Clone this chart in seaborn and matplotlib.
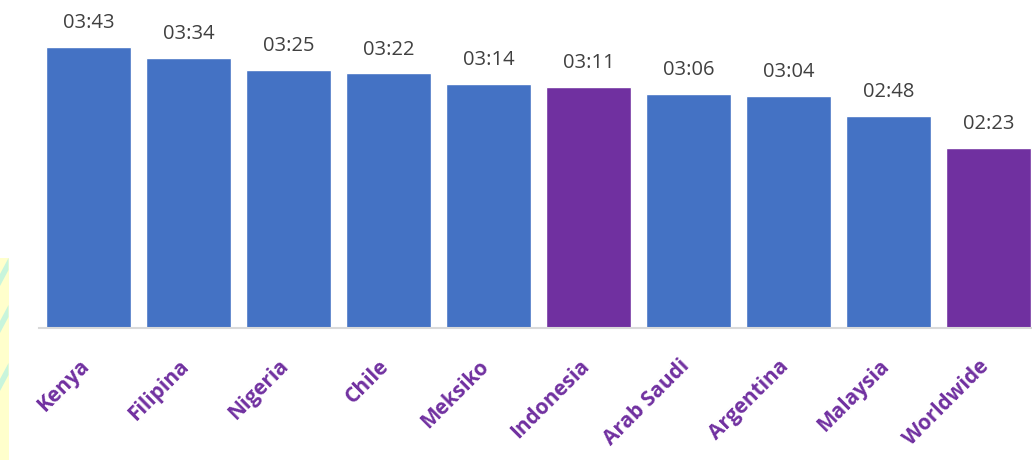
import matplotlib
matplotlib.use("Agg")
import matplotlib.pyplot as plt
import matplotlib.transforms as mtransforms
import seaborn as sns
import pandas as pd
from matplotlib.patches import Rectangle, Polygon

countries = ['Kenya', 'Filipina', 'Nigeria', 'Chile', 'Meksiko',
             'Indonesia', 'Arab Saudi', 'Argentina', 'Malaysia', 'Worldwide']
# time spent, in seconds (mm:ss)
seconds = [223, 214, 205, 202, 194, 191, 186, 184, 168, 143]
highlight = ['Indonesia', 'Worldwide']

blue = '#4472C4'
purple = '#7030A0'

df = pd.DataFrame({'country': countries, 'sec': seconds})
palette = {c: (purple if c in highlight else blue) for c in countries}

sns.set_style('white')
plt.rcParams['font.family'] = ['Open Sans', 'DejaVu Sans']

fig = plt.figure(figsize=(10.32, 4.68), dpi=100)
ax = fig.add_axes([38.5 / 1032, 140 / 468, 1000 / 1032, 315 / 468])

sns.barplot(data=df, x='country', y='sec', hue='country', palette=palette,
            width=0.85, saturation=1, legend=False, ax=ax)

ax.set_xlim(-0.5, 9.5)
ax.set_ylim(0, 250)

for i, s in enumerate(seconds):
    ax.text(i, s + 11, f'{s // 60:02d}:{s % 60:02d}', ha='center', va='bottom',
            fontsize=14.5, color='#404040', clip_on=False)

ax.set_xticks(range(len(countries)))
ax.set_xticklabels(countries, rotation=45, ha='right', va='top',
                   rotation_mode='anchor', fontsize=15, fontweight='bold',
                   color=purple)
ax.tick_params(axis='x', length=0, pad=20)
shift = mtransforms.ScaledTranslation(-10 / 100, 0, fig.dpi_scale_trans)
for lab in ax.get_xticklabels():
    lab.set_transform(lab.get_transform() + shift)
ax.set_yticks([])
ax.set_xlabel('')
ax.set_ylabel('')

for side in ['top', 'right', 'left']:
    ax.spines[side].set_visible(False)
ax.spines['bottom'].set_color('#D9D9D9')
ax.spines['bottom'].set_linewidth(1.5)

# decorative strip at the left edge
W, H = 1032, 468
fig.patches.append(Rectangle((0, 8 / H), 8.5 / W, 202 / H, transform=fig.transFigure,
                             facecolor='#FFFFCC', edgecolor='none', zorder=-1))
for y0 in [210, 163, 105]:
    pts = [(0, (y0 - 16) / H), (8.5 / W, y0 / H), (8.5 / W, (y0 - 12) / H), (0, (y0 - 28) / H)]
    fig.patches.append(Polygon(pts, closed=True, transform=fig.transFigure,
                               facecolor='#C8F5DC', edgecolor='none', zorder=-1))

fig.savefig('out.png', dpi=100)
